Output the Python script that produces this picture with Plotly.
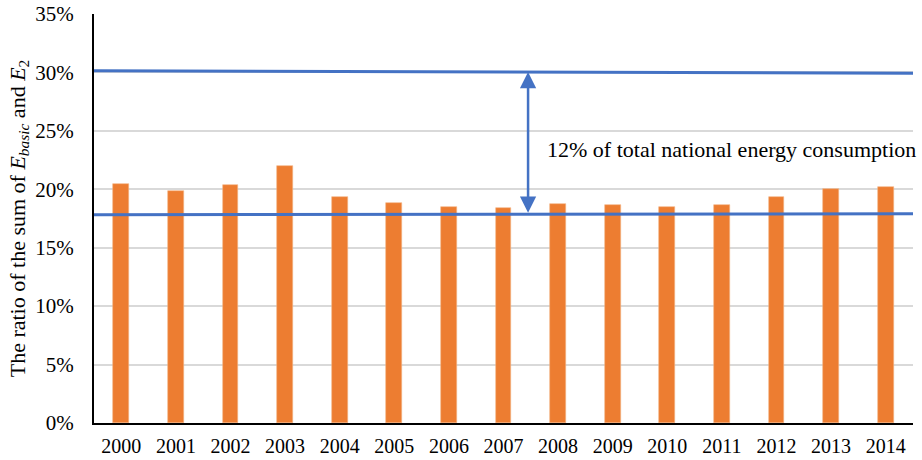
import plotly.graph_objects as go

# Yearly share (%) of E_basic + E_2 in national energy consumption
years = [2000, 2001, 2002, 2003, 2004, 2005, 2006, 2007,
         2008, 2009, 2010, 2011, 2012, 2013, 2014]
ratio = [20.46, 19.89, 20.38, 21.97, 19.35, 18.84, 18.52, 18.41,
         18.75, 18.66, 18.49, 18.69, 19.32, 20.03, 20.20]

# Reference levels (start, end) drawn across the plot
upper_level = [30.15, 29.93]
lower_level = [17.83, 17.90]

arrow_year = 2007.45
gap_label = "12% of total national energy consumption"

BLUE = "#4472C4"
ORANGE = "#ED7D31"
FONT = "Liberation Serif"

fig = go.Figure()
fig.add_trace(go.Bar(
    x=years, y=ratio, width=0.29,
    marker=dict(color=ORANGE, line=dict(color="#F4B183", width=0.6)),
    showlegend=False, hoverinfo="x+y",
))

x0, x1 = years[0] - 0.5, years[-1] + 0.5
for lv in (upper_level, lower_level):
    fig.add_shape(type="line", xref="x", yref="y",
                  x0=x0, x1=x1, y0=lv[0], y1=lv[1],
                  line=dict(color=BLUE, width=3))

# Double-headed arrow between the two levels
frac = (arrow_year - x0) / (x1 - x0)
y_top = upper_level[0] + (upper_level[1] - upper_level[0]) * frac
y_bot = lower_level[0] + (lower_level[1] - lower_level[0]) * frac
fig.add_annotation(
    x=arrow_year, y=y_top, ax=arrow_year, ay=y_bot,
    xref="x", yref="y", axref="x", ayref="y",
    text="", showarrow=True, arrowhead=2, arrowside="end+start",
    arrowsize=1.3, arrowwidth=2.5, arrowcolor=BLUE,
    standoff=0, startstandoff=0,
)
fig.add_annotation(
    x=arrow_year + 0.31, y=23.4, xref="x", yref="y",
    text=gap_label, showarrow=False, xanchor="left", yanchor="middle",
    font=dict(family=FONT, size=22, color="#000000"),
)

fig.update_layout(
    width=922, height=460,
    margin=dict(l=94, r=9, t=14, b=37),
    paper_bgcolor="white", plot_bgcolor="white",
    font=dict(family=FONT, size=21, color="#000000"),
    bargap=0,
)
fig.update_xaxes(
    range=[x0, x1], tickmode="array", tickvals=years,
    ticktext=[str(y) for y in years],
    showgrid=False, zeroline=False,
    showline=True, linecolor="black", linewidth=2,
    ticks="", ticklabelstandoff=4, automargin=False,
    tickfont=dict(family=FONT, size=20),
)
fig.update_yaxes(
    range=[0, 35], tick0=0, dtick=5, ticksuffix="%",
    showgrid=True, gridcolor="#D9D9D9", gridwidth=1.5,
    zeroline=False, showline=True, linecolor="black", linewidth=2,
    ticks="", ticklabelstandoff=14, automargin=False,
    tickfont=dict(family=FONT, size=21),
    title=dict(
        text="The ratio of the sum of <i>E</i><sub><i>basic</i></sub> and <i>E</i><sub>2</sub>",
        font=dict(family=FONT, size=22), standoff=4,
    ),
)

fig.write_html("out.html")
